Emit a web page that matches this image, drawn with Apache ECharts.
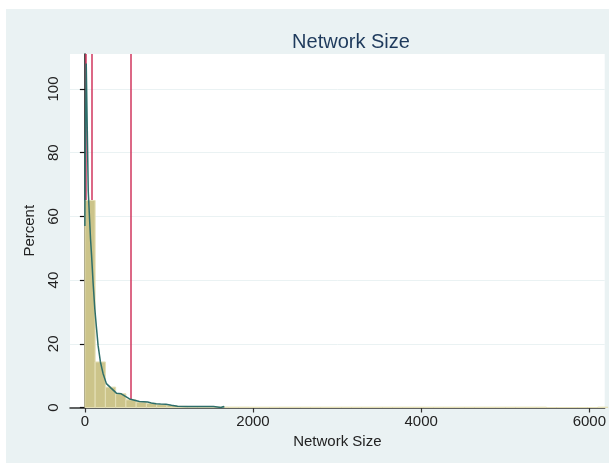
<!DOCTYPE html>
<html>
<head>
<meta charset="utf-8">
<script src="https://cdn.jsdelivr.net/npm/echarts@6/dist/echarts.min.js"></script>
<style>
  html, body { margin: 0; padding: 0; background: #ffffff; }
  #chart { position: absolute; left: 6px; top: 9px; width: 603px; height: 454px; background: #EAF2F3; }
</style>
</head>
<body>
<div id="chart"></div>
<script>
// ---- data ----
const titleText = 'Network Size';
const xName = 'Network Size';
const yName = 'Percent';
const xTicks = [0, 2000, 4000, 6000];
const yTicks = [0, 20, 40, 60, 80, 100];
const binWidth = 122;
// percent of observations per bin (bins start at 0)
const histPct = [
  65, 14.3, 6.4, 4.3, 2.4, 1.7, 1.3, 0.9, 0.6, 0.35,
  0.25, 0.2, 0.15, 0.15, 0.12, 0.12, 0.1, 0.1, 0.1, 0.1,
  0.1, 0.1, 0.1, 0.1, 0.1, 0.1, 0.1, 0.1, 0.1, 0.1,
  0.1, 0.1, 0.1, 0.1, 0.1, 0.1, 0.1, 0.1, 0.1, 0.1,
  0.1, 0.1, 0.1, 0.1, 0.1, 0, 0, 0, 0, 0,
  0.1
];
// density-like curve (x value, percent)
const curveX = [0, 1, 14, 16, 38, 40, 62, 67, 79, 98, 118, 138, 157, 185, 216, 256, 315, 375, 433, 531, 649, 700, 747, 790, 846, 900, 964, 1030, 1101, 1200, 1530, 1535, 1620, 1625, 1650, 1655];
const curveY = [57, 70, 70, 108, 108, 68, 68, 53, 48, 39, 31, 25, 19.5, 14.3, 10.7, 7.5, 6, 4.5, 4.3, 2.7, 1.9, 1.8, 1.7, 1.4, 1.2, 1.1, 1.0, 0.7, 0.4, 0.3, 0.3, 0, 0, 0.3, 0.3, 0];
// vertical reference lines
const refLines = [15, 79, 551];

// ---- build ----
const barData = histPct.map((v, i) => [i * binWidth, (i + 1) * binWidth, v]);
const curveData = curveX.map((x, i) => [x, curveY[i]]);

const chart = echarts.init(document.getElementById('chart'), null, { renderer: 'canvas' });
const font = 'Liberation Sans, Arial, sans-serif';

chart.setOption({
  backgroundColor: '#EAF2F3',
  animation: false,
  title: {
    text: titleText,
    left: 340,
    top: 18,
    textAlign: 'center',
    textStyle: { fontFamily: font, fontSize: 20, fontWeight: 'normal', color: '#1E3A5C' }
  },
  grid: {
    left: 64, top: 45, right: 0, bottom: 55.5,
    show: true, backgroundColor: '#ffffff', borderWidth: 0
  },
  xAxis: {
    type: 'value',
    min: -177, max: 6183,
    name: xName,
    nameLocation: 'middle',
    nameGap: 26,
    nameTextStyle: { fontFamily: font, fontSize: 15, color: '#222' },
    axisLine: { show: true, onZero: false, lineStyle: { color: '#333', width: 1.5 } },
    axisTick: { show: true, length: 5, customValues: xTicks, lineStyle: { color: '#333', width: 1.2 } },
    axisLabel: { customValues: xTicks, formatter: v => String(v), fontFamily: font, fontSize: 15, color: '#222', margin: 7 },
    splitLine: { show: false }
  },
  yAxis: {
    type: 'value',
    min: 0, max: 111, interval: 20,
    name: yName,
    nameLocation: 'middle',
    nameGap: 33,
    nameTextStyle: { fontFamily: font, fontSize: 15, color: '#222' },
    axisLine: { show: true, lineStyle: { color: '#111', width: 1.5 } },
    axisTick: { show: true, length: 5, customValues: yTicks, lineStyle: { color: '#111', width: 1.2 } },
    axisLabel: { customValues: yTicks, rotate: 90, fontFamily: font, fontSize: 15, color: '#222', margin: 9 },
    splitLine: { show: true, lineStyle: { color: '#EAF2F3', width: 1 } }
  },
  series: [
    {
      type: 'line',
      z: 1,
      data: [],
      symbol: 'none',
      markLine: {
        z: 1,
        silent: true,
        symbol: 'none',
        label: { show: false },
        lineStyle: { color: '#D0365E', width: 1.5, type: 'solid' },
        data: refLines.map(v => ({ xAxis: v }))
      }
    },
    {
      type: 'custom',
      z: 3,
      data: barData,
      encode: { x: [0, 1], y: 2 },
      renderItem: function (params, api) {
        const p0 = api.coord([api.value(0), api.value(2)]);
        const p1 = api.coord([api.value(1), 0]);
        return {
          type: 'rect',
          shape: { x: p0[0], y: p0[1], width: p1[0] - p0[0], height: Math.max(p1[1] - p0[1], 0) },
          style: { fill: '#CCC48A', stroke: '#E4DFB6', lineWidth: 1 }
        };
      }
    },
    {
      type: 'line',
      z: 4,
      data: curveData,
      symbol: 'none',
      lineStyle: { color: '#2E6E6A', width: 1.5 }
    }
  ]
});
</script>
</body>
</html>
